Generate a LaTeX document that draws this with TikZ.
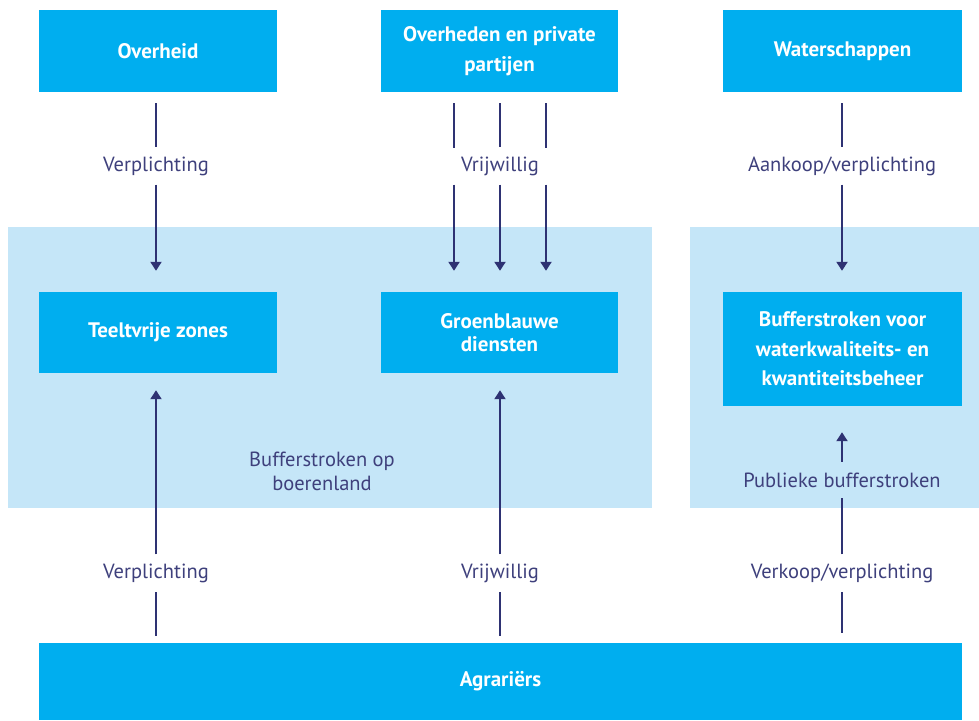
\documentclass[tikz,border=0pt]{standalone}
\usepackage{fontspec}
\setmainfont{PT Sans}
\usetikzlibrary{arrows.meta}
\definecolor{boxblue}{RGB}{0,174,239}
\definecolor{panelblue}{RGB}{197,230,248}
\definecolor{navy}{RGB}{46,50,115}
\definecolor{labeltext}{RGB}{62,64,124}
\begin{document}
\begin{tikzpicture}[x=1pt,y=-1pt,
 box/.style={fill=boxblue, text=white, font=\bfseries\fontsize{21}{29.5}\selectfont, align=center, inner sep=0pt},
 lbl/.style={text=labeltext, font=\fontsize{20.5}{24}\selectfont, inner sep=0pt, minimum height=37pt},
 conn/.style={draw=navy, line width=2pt},
 arr/.style={conn, -{Triangle[width=11pt,length=9pt]}},
]
\useasboundingbox (0,0) rectangle (979,720);
\fill[panelblue] (8,227) rectangle (652,508);
\fill[panelblue] (690,227) rectangle (979,508);

\node[box, minimum width=238pt, minimum height=82pt] (overheid) at (158,51) {Overheid};
\node[box, minimum width=237pt, minimum height=82pt] (overheden) at (499.5,51) {Overheden en private\\partijen};
\node[box, minimum width=239pt, minimum height=82pt] (water) at (842.5,51) {Waterschappen};
\node[box, minimum width=238pt, minimum height=81pt] (teelt) at (158,332.5) {Teeltvrije zones};
\node[box, minimum width=237pt, minimum height=81pt, font=\bfseries\fontsize{21}{23}\selectfont] (groen) at (499.5,332.5) {Groenblauwe\\diensten};
\node[box, minimum width=239pt, minimum height=114pt] (buffer) at (842.5,349) {Bufferstroken voor\\waterkwaliteits- en\\kwantiteitsbeheer};
\node[box, minimum width=923pt, minimum height=77pt] (agr) at (500.5,681.5) {Agrariërs};

\node[lbl] (lv1) at (156,166) {Verplichting};
\node[lbl] (lv2) at (500,166) {Vrijwillig};
\node[lbl] (lv3) at (842,166) {Aankoop/verplichting};
\node[lbl] (lb1) at (156,573) {Verplichting};
\node[lbl] (lb2) at (500,573) {Vrijwillig};
\node[lbl] (lb3) at (842,573) {Verkoop/verplichting};
\node[lbl, minimum height=36pt] (lpub) at (842,480) {Publieke bufferstroken};
\node[text=labeltext, font=\fontsize{20.5}{24}\selectfont, align=center, inner sep=0pt] (boer) at (322,471) {Bufferstroken op\\boerenland};

\coordinate (ml1) at (454,147.5);
\coordinate (ml2) at (454,184.5);
\coordinate (mr1) at (546,147.5);
\coordinate (mr2) at (546,184.5);

% top arrows
\draw[conn, shorten <=11pt] (lv1.north |- overheid.south) -- (lv1.north);
\draw[arr, shorten >=21pt] (lv1.south) -- (lv1.south |- teelt.north);
\draw[conn, shorten <=11pt] (lv2.north |- overheden.south) -- (lv2.north);
\draw[arr, shorten >=21pt] (lv2.south) -- (lv2.south |- groen.north);
\draw[conn, shorten <=11pt] (ml1 |- overheden.south) -- (ml1);
\draw[arr, shorten >=21pt] (ml2) -- (ml2 |- groen.north);
\draw[conn, shorten <=11pt] (mr1 |- overheden.south) -- (mr1);
\draw[arr, shorten >=21pt] (mr2) -- (mr2 |- groen.north);
\draw[conn, shorten <=11pt] (lv3.north |- water.south) -- (lv3.north);
\draw[arr, shorten >=21pt] (lv3.south) -- (lv3.south |- buffer.north);

% bottom arrows
\draw[conn, shorten <=7pt] (lb1.south |- agr.north) -- (lb1.south);
\draw[arr, shorten >=17pt] (lb1.north) -- (lb1.north |- teelt.south);
\draw[conn, shorten <=7pt] (lb2.south |- agr.north) -- (lb2.south);
\draw[arr, shorten >=17pt] (lb2.north) -- (lb2.north |- groen.south);
\draw[conn, shorten <=10pt] (lb3.south |- agr.north) -- (lb3.south);
\draw[conn] (lb3.north) -- (lpub.south);
\draw[arr, shorten >=26pt] (lpub.north) -- (lpub.north |- buffer.south);
\end{tikzpicture}
\end{document}
